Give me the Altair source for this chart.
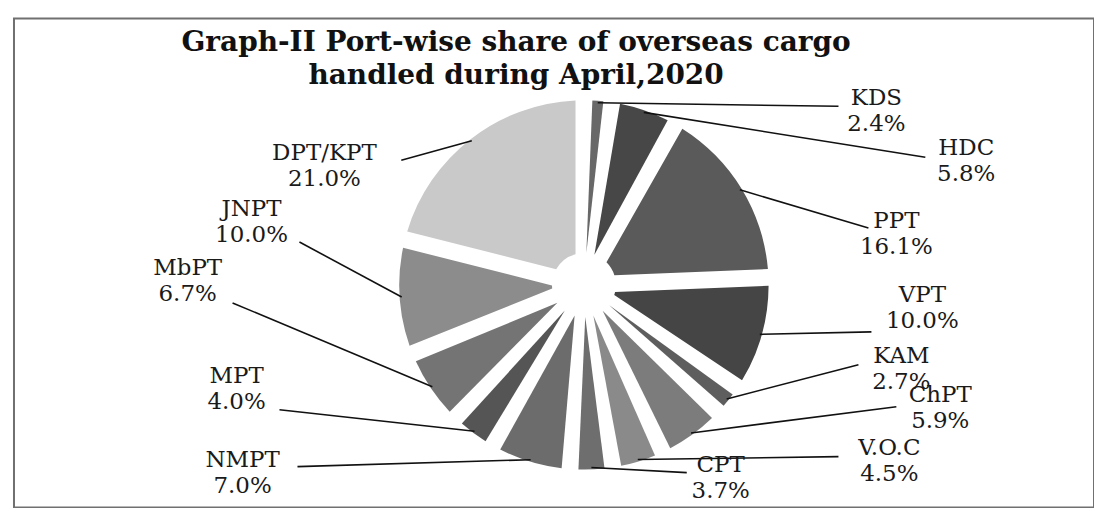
import altair as alt
import pandas as pd

# ---- data ----
ports = ["KDS", "HDC", "PPT", "VPT", "KAM", "ChPT", "V.O.C", "CPT",
         "NMPT", "MPT", "MbPT", "JNPT", "DPT/KPT"]
shares = [2.4, 5.8, 16.1, 10.0, 2.7, 5.9, 4.5, 3.7, 7.0, 4.0, 6.7, 10.0, 21.0]

# ---- styling ----
shades = ["#686868", "#474747", "#5a5a5a", "#454545", "#5e5e5e", "#7c7c7c",
          "#8a8a8a", "#6e6e6e", "#6c6c6c", "#555555", "#747474", "#8c8c8c",
          "#c9c9c9"]

# ---- annotation layout (first-line centre of each label and leader-line end, view px) ----
label_xy = {
    "KDS": (864, 80), "HDC": (954, 130), "PPT": (884, 203), "VPT": (910, 277),
    "KAM": (889, 338), "ChPT": (928, 377), "V.O.C": (877, 430),
    "CPT": (708, 447), "NMPT": (229, 442), "MPT": (223, 358),
    "MbPT": (174, 250), "JNPT": (238, 191), "DPT/KPT": (311, 135),
}
leader_end = {
    "KDS": (826, 88), "HDC": (913, 139), "PPT": (856, 210), "VPT": (859, 314),
    "KAM": (846, 347), "ChPT": (884, 389), "V.O.C": (826, 439),
    "CPT": (674, 455), "NMPT": (284, 449), "MPT": (266, 392),
    "MbPT": (219, 285), "JNPT": (286, 224), "DPT/KPT": (388, 142),
}

CX, CY, R = 571, 267, 185
W, H = 1082, 490

df = pd.DataFrame({"port": ports, "share": shares, "idx": list(range(len(ports)))})
df["label"] = [f"{p}\n{s:.1f}%" for p, s in zip(ports, shares)]
df["lx"] = [label_xy[p][0] for p in ports]
df["ly"] = [label_xy[p][1] for p in ports]
df["ex"] = [leader_end[p][0] for p in ports]
df["ey"] = [leader_end[p][1] for p in ports]

base = alt.Chart(df)

pie = base.mark_arc(radius=R, innerRadius=32, padAngle=0.09).encode(
    theta=alt.Theta("share:Q", stack=True),
    order=alt.Order("idx:Q"),
    color=alt.Color("port:N", scale=alt.Scale(domain=ports, range=shades), legend=None),
    x=alt.value(CX),
    y=alt.value(CY),
)

leaders = base.transform_window(
    cum="sum(share)", sort=[alt.SortField("idx")], frame=[None, 0]
).transform_joinaggregate(
    total="sum(share)"
).transform_calculate(
    mid="(datum.cum - datum.share / 2) / datum.total * 2 * PI",
    sx=f"{CX} + {R - 2} * sin(datum.mid)",
    sy=f"{CY} - {R - 2} * cos(datum.mid)",
).mark_rule(color="#111111", strokeWidth=1.6).encode(
    x=alt.X("sx:Q", scale=None, axis=None),
    y=alt.Y("sy:Q", scale=None, axis=None),
    x2="ex:Q",
    y2="ey:Q",
)

labels = base.mark_text(
    font="DejaVu Serif", fontSize=23, color="#1a1a1a", align="center",
    baseline="middle", lineBreak="\n", lineHeight=26,
).encode(
    x=alt.X("lx:Q", scale=None, axis=None),
    y=alt.Y("ly:Q", scale=None, axis=None),
    text="label:N",
)

chart = alt.layer(pie, leaders, labels).properties(
    width=W,
    height=H,
    autosize="none",
    padding={"left": 6, "top": 10, "right": 0, "bottom": 0},
    title=alt.TitleParams(
        text=["Graph-II Port-wise share of  overseas cargo", "handled during April,2020"],
        font="DejaVu Serif", fontSize=28, fontWeight="bold", color="#111111",
        anchor="middle", frame="group", offset=-72, dx=-38, lineHeight=33,
    ),
).configure_view(stroke="#707070", strokeWidth=2)

chart.save("out.html", embed_options={"renderer": "svg", "actions": False})
